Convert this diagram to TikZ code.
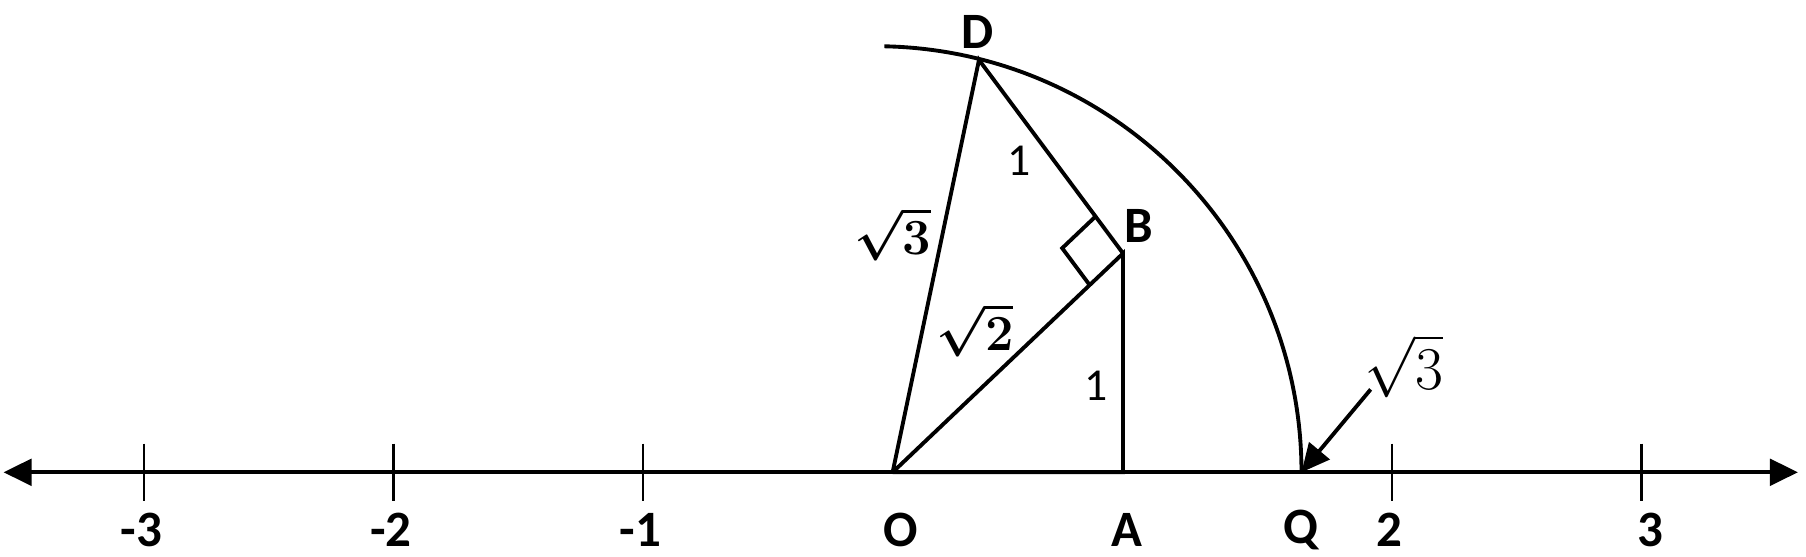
\documentclass[tikz,border=0pt]{standalone}
\usepackage{fontspec}
\setmainfont{Carlito}
\usepackage{tikz}
\usetikzlibrary{calc}
\usetikzlibrary{arrows.meta}
\tikzset{>={Triangle[length=8pt,width=7.5pt]}}
\usepackage{amsmath}

\begin{document}
\begin{tikzpicture}[x=2.496cm,y=2.496cm,line width=1.1pt,
	pt/.style={font=\bfseries\fontsize{14.5}{17}\selectfont},
	side/.style={font=\fontsize{13}{15}\selectfont},
	root/.style={font=\fontsize{15}{18}\selectfont},
	tick/.style={line width=0.65pt}]
	\useasboundingbox (-3.576,-0.337) rectangle (3.659,1.892);
	\coordinate (left) at (-3.562,0);
	\coordinate (right) at (3.627,0);
	\coordinate (O) at (0,0);
	\coordinate (A) at (0.923,0);
	\coordinate (B) at (0.923,0.877);
	\coordinate (D) at (0.346,1.652);
	\coordinate (Q) at (1.638,0);
	\coordinate (tail) at (1.915,0.332);
	\draw[<->,line width=1.2pt] (left)--(right);
	\draw[tick] (-3,0.115)--(-3,-0.115);
	\draw[tick] (-2,0.115)--(-2,-0.115);
	\draw[tick] (-1,0.115)--(-1,-0.115);
	\draw[tick] (2,0.115)--(2,-0.115);
	\draw[tick] (3,0.115)--(3,-0.115);
	\node[pt] (m3) at (-3.01,-0.231) {-3};
	\node[pt] (m2) at (-2.01,-0.231) {-2};
	\node[pt] (m1) at (-1.01,-0.231) {-1};
	\node[pt] (lblO) at (0.032,-0.231) {O};
	\node[pt] (lblA) at (0.937,-0.231) {A};
	\node[pt] (lblQ) at (1.634,-0.231) {Q};
	\node[pt] (p2) at (1.99,-0.231) {2};
	\node[pt] (p3) at (3.036,-0.231) {3};
	\draw (O)--(A)--(B)--(O);
	\draw (O)--(D)--(B);
	\draw (Q) arc[start angle=0,end angle=88.8,radius=1.707];
	\coordinate (bd) at ($(B)!4.6mm!(D)$);
	\coordinate (bo) at ($(B)!4.6mm!(O)$);
	\draw (bd)--($(bd)+(bo)-(B)$)--(bo);
	\node[pt] (lblD) at (0.341,1.763) {D};
	\node[pt] (lblB) at (0.985,0.988) {B};
	\node[side] (db) at (0.508,1.246) {1};
	\node[side] (ab) at (0.817,0.346) {1};
	\node[root] (od) at (0.0,0.955) {$\boldsymbol{\sqrt{3}}$};
	\node[root] (ob) at (0.33,0.57) {$\boldsymbol{\sqrt{2}}$};
	\node[root,font=\fontsize{16.5}{19}\selectfont] (oq) at (2.049,0.425) {$\sqrt{3}$};
	\draw[->] (tail)--(Q);
\end{tikzpicture}
\end{document}
